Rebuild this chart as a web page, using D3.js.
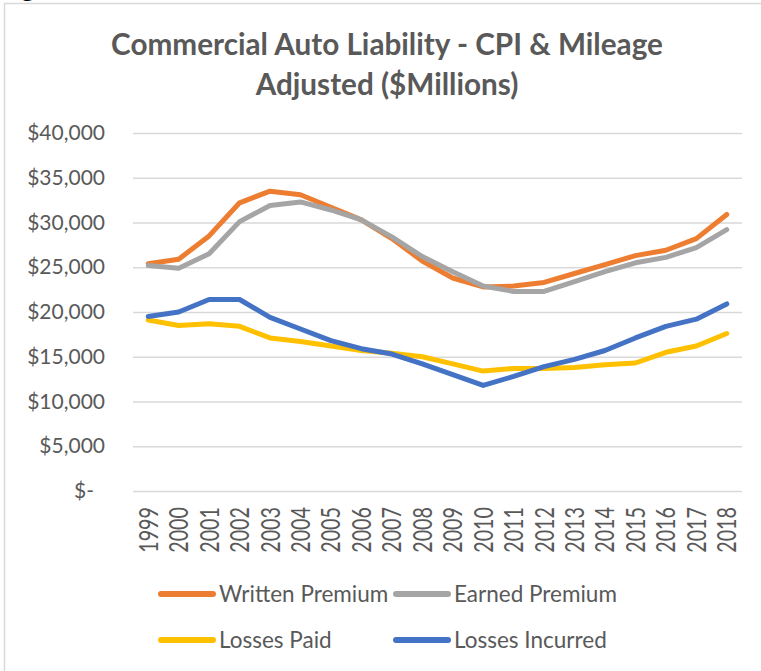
<!DOCTYPE html>
<html><head><meta charset="utf-8">
<script src="https://cdn.jsdelivr.net/npm/d3@7"></script>
<style>body{margin:0;background:#fff} svg{display:block}</style>
</head><body><svg id="c" width="761" height="671"></svg>
<script>
const years = ["1999","2000","2001","2002","2003","2004","2005","2006","2007","2008","2009","2010","2011","2012","2013","2014","2015","2016","2017","2018"];
const writtenPremium = [25400,25900,28500,32200,33500,33100,31700,30300,28200,25700,23800,22800,22900,23300,24300,25300,26300,26900,28200,30900];
const earnedPremium  = [25200,24900,26500,30100,31900,32300,31400,30300,28400,26200,24500,22900,22300,22300,23400,24500,25500,26100,27200,29200];
const lossesPaid     = [19100,18500,18700,18400,17100,16700,16200,15700,15400,15000,14200,13400,13700,13700,13800,14100,14300,15500,16200,17600];
const lossesIncurred = [19500,20000,21400,21400,19400,18100,16800,15900,15300,14200,13000,11800,12800,13900,14700,15700,17100,18400,19200,20900];
const seriesNames = ["Written Premium","Earned Premium","Losses Paid","Losses Incurred"];
const seriesColors = ["#ED7D31","#A5A5A5","#FFC000","#4472C4"];
const yTicks = [0,5000,10000,15000,20000,25000,30000,35000,40000];
const titleLines = ["Commercial Auto Liability - CPI & Mileage","Adjusted ($Millions)"];

const series = [writtenPremium, earnedPremium, lossesPaid, lossesIncurred];
const svg = d3.select("#c");
const textColor = "#595959";
const font = "Lato, 'Open Sans', sans-serif";

// outer frame
svg.append("rect").attr("x",4.5).attr("y",3.5).attr("width",800).attr("height",700)
  .attr("fill","none").attr("stroke","#D9D9D9").attr("stroke-width",1.5);
// fragment of text above the frame (cut off at the top, as in the reference)
svg.append("text").attr("x",20).attr("y",-4).attr("font-family",font).attr("font-size",30)
  .attr("fill","#000").text("g");

const pLeft = 133, pRight = 742, pTop = 133, pBottom = 491;
const x = d3.scalePoint().domain(years).range([pLeft,pRight]).padding(0.5);
const y = d3.scaleLinear().domain([0,40000]).range([pBottom,pTop]);

// title
svg.append("g").selectAll("text").data(titleLines).join("text")
  .attr("x",387).attr("y",(d,i)=>55+i*40)
  .attr("text-anchor","middle").attr("font-family",font).attr("font-weight","bold")
  .attr("font-size",29.7).attr("fill",textColor).text(d=>d);

// y axis with gridlines
const yAxis = d3.axisLeft(y).tickValues(yTicks).tickSize(-(pRight-pLeft)).tickPadding(28)
  .tickFormat(d => d===0 ? "$-" : "$" + d3.format(",")(d));
const gy = svg.append("g").attr("transform",`translate(${pLeft},0)`).call(yAxis);
gy.select(".domain").remove();
gy.selectAll(".tick line").attr("stroke","#D9D9D9").attr("stroke-width",1.5);
gy.selectAll(".tick text").attr("font-family",font).attr("font-size",21).attr("fill",textColor)
  .attr("dx",d=>d===0?-11:0);

// x axis
const xAxis = d3.axisBottom(x).tickSize(0).tickPadding(0);
const gx = svg.append("g").attr("transform",`translate(0,${pBottom})`).call(xAxis);
gx.select(".domain").remove();
gx.selectAll(".tick text").attr("font-family",font).attr("font-size",26).attr("fill",textColor)
  .attr("text-anchor","end").attr("dy",null).attr("y",null)
  .attr("transform","translate(9,16) rotate(-90) scale(0.76,1)");

// lines
const line = d3.line().x((d,i)=>x(years[i])).y(d=>y(d));
svg.append("g").selectAll("path").data(series).join("path")
  .attr("d",line).attr("fill","none")
  .attr("stroke",(d,i)=>seriesColors[i]).attr("stroke-width",5)
  .attr("stroke-linejoin","round").attr("stroke-linecap","round");

// legend
const legendPos = [[159,594],[394,594],[159,640],[394,640]];
const lg = svg.append("g").selectAll("g").data(seriesNames).join("g")
  .attr("transform",(d,i)=>`translate(${legendPos[i][0]},${legendPos[i][1]})`);
lg.append("line").attr("x1",2).attr("x2",54).attr("y1",0).attr("y2",0)
  .attr("stroke",(d,i)=>seriesColors[i]).attr("stroke-width",6).attr("stroke-linecap","round");
lg.append("text").attr("x",60).attr("y",7.5).attr("font-family",font).attr("font-size",22.5)
  .attr("fill",textColor).text(d=>d);
</script>
</body></html>
